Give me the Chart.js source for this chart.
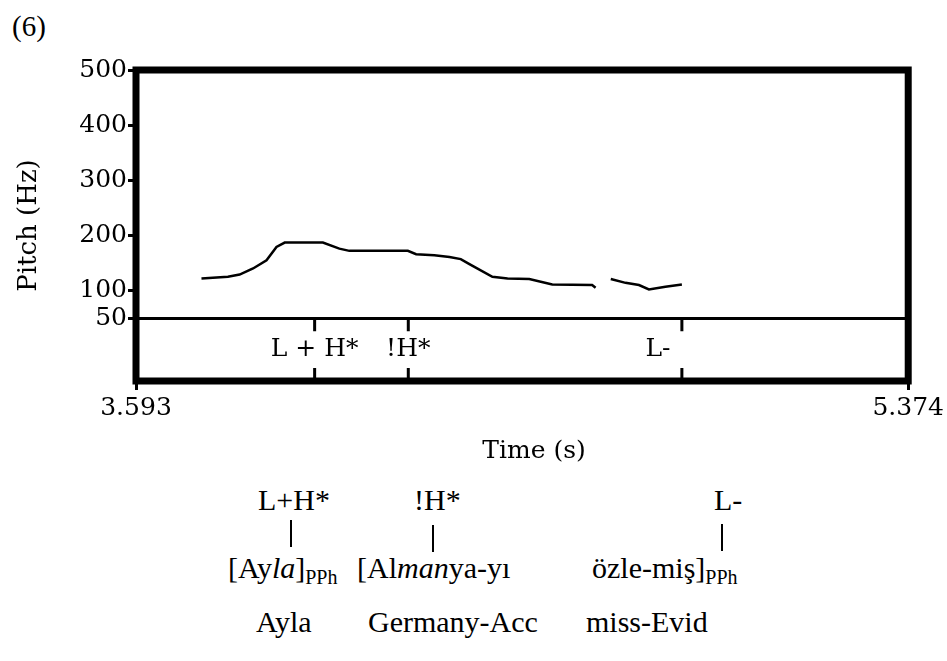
<!doctype html>
<html lang="en">
  <head>
    <meta charset="UTF-8" />
    <title>Pitch track (6)</title>
    <style>
      body {
        margin: 0;
        background: white;
        width: 947px;
        height: 661px;
        position: relative;
        overflow: hidden;
        font-family: "Liberation Serif", "Times New Roman", serif;
        color: black;
      }
      .chart-box {
        position: absolute;
        left: 0;
        top: 0;
        width: 947px;
        height: 480px;
      }
      .t {
        position: absolute;
        font-size: 30px;
        line-height: 30px;
        white-space: nowrap;
      }
      .sub {
        font-size: 20px;
        position: relative;
        top: 6px;
      }
      .bar {
        position: absolute;
        width: 2px;
        height: 27px;
        background: black;
      }
    </style>
  </head>
  <body>
    <div class="t" style="left: 12px; top: 11px; font-size: 29px">(6)</div>

    <div class="chart-box"><canvas id="pitchChart"></canvas></div>

    <!-- tones -->
    <div class="t" style="left: 258px; top: 485px">L+H*</div>
    <div class="t" style="left: 414px; top: 485px">!H*</div>
    <div class="t" style="left: 714px; top: 485px">L-</div>
    <!-- association lines -->
    <div class="bar" style="left: 290px; top: 520px"></div>
    <div class="bar" style="left: 432px; top: 525px"></div>
    <div class="bar" style="left: 721px; top: 524px"></div>
    <!-- words -->
    <div class="t" style="left: 228px; top: 553px">[Ay<i>la</i>]<span class="sub">PPh</span></div>
    <div class="t" style="left: 357px; top: 553px">[Al<i>man</i>ya-yı</div>
    <div class="t" style="left: 592px; top: 553px">özle-miş]<span class="sub">PPh</span></div>
    <!-- gloss -->
    <div class="t" style="left: 256px; top: 607px">Ayla</div>
    <div class="t" style="left: 368px; top: 607px">Germany-Acc</div>
    <div class="t" style="left: 586px; top: 607px">miss-Evid</div>

    <script src="https://cdn.jsdelivr.net/npm/chart.js"></script>
    <script>
      // pitch contour (s, Hz), null = unvoiced gap
      var pitchTimes = [
        3.744, 3.805, 3.832, 3.863, 3.894, 3.917, 3.936, 4.024, 4.062, 4.085,
        4.220, 4.239, 4.281, 4.316, 4.342, 4.362, 4.415, 4.450, 4.500, 4.553,
        4.645, 4.653, 4.670, 4.688, 4.722, 4.753, 4.776, 4.814, 4.852
      ];
      var pitchHz = [
        122, 125, 129, 140, 155, 179, 187, 187, 176, 172,
        172, 166, 164, 161, 157, 148, 125, 122, 121, 111,
        110, 105, null, 121, 114, 110, 102, 107, 111
      ];

      // axis ticks
      var yTicks = [50, 100, 200, 300, 400, 500];
      var xTicks = [3.593, 5.374];

      // point tier
      var tierTimes = [4.005, 4.221, 4.852];
      var tierLabels = ["L + H*", "!H*", "L-      "];

      var serif = '"DejaVu Serif", serif';

      var praatFrame = {
        id: "praatFrame",
        afterDatasetsDraw: function (chart) {
          var ctx = chart.ctx;
          var a = chart.chartArea;
          var x = chart.scales.x;
          var y = chart.scales.y;
          ctx.save();
          ctx.strokeStyle = "black";
          ctx.fillStyle = "black";
          ctx.lineWidth = 7;
          ctx.strokeRect(a.left, a.top, a.right - a.left, a.bottom - a.top);

          // tier marks + labels
          var yTier = y.getPixelForValue(50);
          ctx.lineWidth = 3;
          ctx.font = "25px " + serif;
          ctx.textAlign = "center";
          ctx.textBaseline = "middle";
          tierTimes.forEach(function (t, i) {
            var px = x.getPixelForValue(t);
            ctx.beginPath();
            ctx.moveTo(px, yTier);
            ctx.lineTo(px, yTier + 13);
            ctx.moveTo(px, a.bottom - 13);
            ctx.lineTo(px, a.bottom);
            ctx.stroke();
            ctx.fillText(tierLabels[i], px, (yTier + a.bottom) / 2);
          });
          ctx.restore();
        }
      };

      var ctx = document.getElementById("pitchChart").getContext("2d");
      var chart = new Chart(ctx, {
        type: "line",
        data: {
          datasets: [
            {
              data: pitchTimes.map(function (t, i) {
                return { x: t, y: pitchHz[i] };
              }),
              borderColor: "black",
              borderWidth: 2.5,
              pointRadius: 0,
              tension: 0,
              spanGaps: false
            }
          ]
        },
        options: {
          responsive: true,
          maintainAspectRatio: false,
          animation: false,
          layout: { padding: { left: 0, top: 70, right: 37, bottom: 9 } },
          plugins: { legend: { display: false }, tooltip: { enabled: false } },
          scales: {
            x: {
              type: "linear",
              min: xTicks[0],
              max: xTicks[1],
              afterBuildTicks: function (s) {
                s.ticks = xTicks.map(function (v) { return { value: v }; });
              },
              afterFit: function (s) { s.height = 90; },
              ticks: {
                color: "black",
                font: { family: serif, size: 25 },
                padding: 3,
                maxRotation: 0,
                callback: function (v) { return v.toFixed(3); }
              },
              grid: {
                drawOnChartArea: false,
                tickLength: 9,
                tickWidth: 3,
                tickColor: "black"
              },
              border: { display: false },
              title: {
                display: true,
                text: "   Time (s)",
                color: "black",
                font: { family: serif, size: 25 },
                padding: { top: 0, bottom: 5 }
              }
            },
            y: {
              min: -64,
              max: 500,
              afterBuildTicks: function (s) {
                s.ticks = yTicks.map(function (v) { return { value: v }; });
              },
              afterFit: function (s) { s.width = 136; },
              ticks: {
                color: "black",
                font: { family: serif, size: 25 },
                padding: 1
              },
              grid: {
                color: function (c) {
                  return c.tick && c.tick.value === 50 ? "black" : "rgba(0,0,0,0)";
                },
                lineWidth: 3,
                tickLength: 8,
                tickWidth: 3,
                tickColor: "black"
              },
              border: { display: false },
              title: {
                display: true,
                text: "Pitch (Hz)",
                color: "black",
                font: { family: serif, size: 26 },
                padding: { top: 14, bottom: 0 }
              }
            }
          }
        },
        plugins: [praatFrame]
      });
    </script>
  </body>
</html>
